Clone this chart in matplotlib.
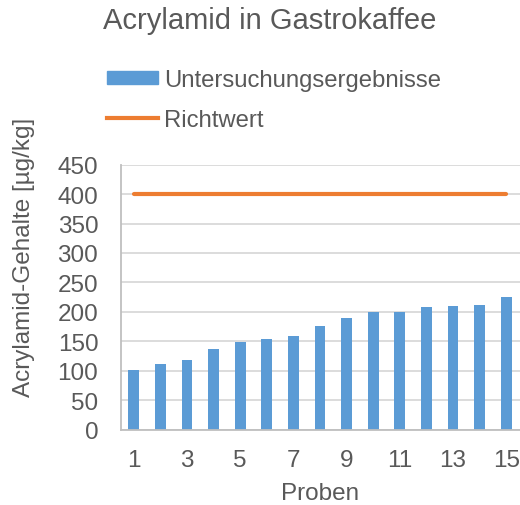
import matplotlib.pyplot as plt
from matplotlib.patches import Patch
from matplotlib.lines import Line2D

plt.rcParams['font.family'] = ['Liberation Sans', 'DejaVu Sans']

# data
proben = list(range(1, 16))
ergebnisse = [101, 111, 118, 137, 149, 154, 159, 176, 190, 200, 200, 209, 210, 212, 225]
richtwert = [400] * 15
y_ticks = list(range(0, 451, 50))
x_ticks = [1, 3, 5, 7, 9, 11, 13, 15]

blue = '#5B9BD5'
orange = '#ED7D31'
txt = '#595959'
fs = 17.5

fig = plt.figure(figsize=(5.2, 5.06), dpi=100)
ax = fig.add_axes([120.5 / 520, 75.5 / 506, 399 / 520, 264.8 / 506])

ax.bar(proben, ergebnisse, width=0.41, color=blue, zorder=2)
ax.plot(proben, richtwert, color=orange, lw=3, solid_capstyle='round', zorder=3)

ax.set_xlim(0.5, 15.5)
ax.set_ylim(0, 450)
ax.set_yticks(y_ticks)
ax.set_xticks(x_ticks)
ax.tick_params(length=0, labelsize=fs, labelcolor=txt)
ax.tick_params(axis='y', pad=16)
ax.tick_params(axis='x', pad=14)
ax.grid(axis='y', color='#D9D9D9', lw=1.3, zorder=0)
for s in ['top', 'right']:
    ax.spines[s].set_visible(False)
for s in ['left', 'bottom']:
    ax.spines[s].set_color('#BFBFBF')
    ax.spines[s].set_linewidth(1.3)

ax.set_xlabel('Proben', fontsize=fs, color=txt, labelpad=8)
ax.set_ylabel('Acrylamid-Gehalte [µg/kg]', fontsize=fs, color=txt)
ax.yaxis.set_label_coords(-0.214, 0.655)

fig.text(103 / 520, 1 - 21 / 506, 'Acrylamid in Gastrokaffee', fontsize=21, color=txt,
         ha='left', va='center')

handles = [Patch(color=blue), Line2D([0], [0], color=orange, lw=3)]
fig.legend(handles, ['Untersuchungsergebnisse', 'Richtwert'], loc='upper left',
           bbox_to_anchor=(95 / 520, 1 - 58 / 506), frameon=False, fontsize=17.2,
           labelcolor=txt, handlelength=2.15, handleheight=0.45, handletextpad=0.25,
           labelspacing=0.75, borderpad=0)

fig.savefig('out.png', dpi=100)
